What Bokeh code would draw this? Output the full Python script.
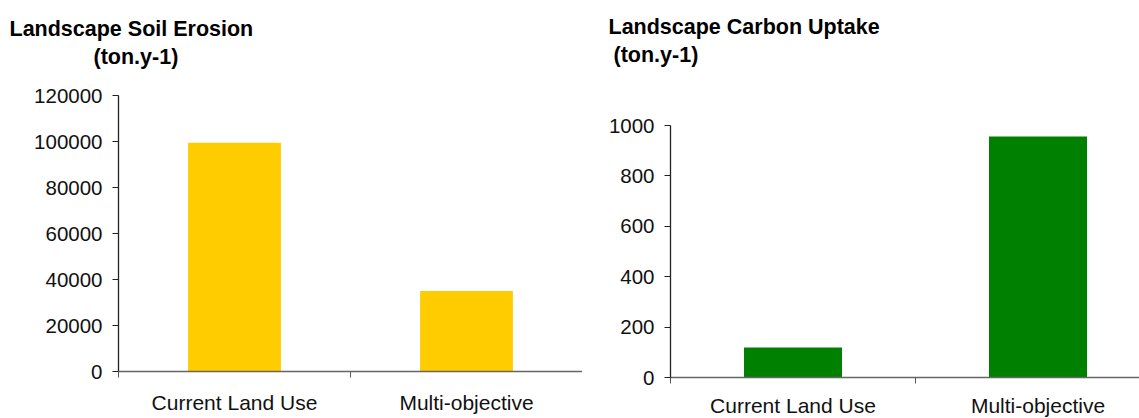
from bokeh.plotting import figure
from bokeh.models import FixedTicker, Title, Range1d, BasicTickFormatter, CustomJSTickFormatter, Span
from bokeh.layouts import row
from bokeh.embed import file_html
from bokeh.resources import INLINE

categories = ["Current Land Use", "Multi-objective"]
erosion = [99500, 35000]
carbon = [119, 956]
erosion_ticks = [0, 20000, 40000, 60000, 80000, 100000, 120000]
carbon_ticks = [0, 200, 400, 600, 800, 1000]

FONT = "Liberation Sans"
HEIGHT = 426
FRAME_TOP = 95      # frame top in pixels (shared by both plots)
FRAME_BOTTOM = 377  # frame bottom in pixels (shared by both plots)
AXIS_GREY = "#666666"


def make(values, color, ticks, title1, title2, width, left, zero_px, top_px,
         xend, off1, off2, pad, label_standoff):
    xs = [i + 0.5 for i in range(len(categories))]
    bounds = [float(i) for i in range(len(categories) + 1)]
    ymax = ticks[-1]
    ppu = (zero_px - top_px) / ymax
    ystart = -(FRAME_BOTTOM - zero_px) / ppu
    yend = ymax + (top_px - FRAME_TOP) / ppu
    lift = FRAME_BOTTOM - zero_px
    p = figure(width=width, height=HEIGHT,
               x_range=Range1d(0, xend), y_range=Range1d(ystart, yend),
               output_backend="svg", toolbar_location=None,
               min_border_left=left, min_border_right=0,
               min_border_top=FRAME_TOP, min_border_bottom=HEIGHT - FRAME_BOTTOM)
    p.vbar(x=xs, top=values, bottom=0, width=0.4, fill_color=color, line_color=None)
    p.outline_line_color = None
    p.xgrid.grid_line_color = None
    p.ygrid.grid_line_color = None
    p.background_fill_color = "white"
    p.border_fill_color = "white"

    xa = p.xaxis[0]
    xa.ticker = FixedTicker(ticks=xs, minor_ticks=bounds)
    xa.formatter = CustomJSTickFormatter(args=dict(labels=categories),
                                         code="return labels[Math.floor(tick)] || '';")
    xa.major_tick_in = 0
    xa.major_tick_out = 0
    xa.minor_tick_line_color = "#555555"
    xa.major_label_text_font = FONT
    xa.major_label_text_font_size = "21px"
    xa.major_label_text_color = "#111111"
    xa.major_label_standoff = label_standoff
    if lift > 0:
        # baseline sits above the frame bottom: draw it at y=0 and let the
        # category-boundary ticks reach up to it from the frame edge
        xa.axis_line_color = None
        xa.minor_tick_in = lift
        xa.minor_tick_out = 0
        p.add_layout(Span(location=0, dimension="width", line_color=AXIS_GREY,
                          line_width=1.3))
    else:
        xa.axis_line_color = AXIS_GREY
        xa.axis_line_width = 1.3
        xa.minor_tick_in = 0
        xa.minor_tick_out = 6

    ya = p.yaxis[0]
    ya.bounds = (0, ymax)
    ya.ticker = FixedTicker(ticks=ticks)
    ya.formatter = BasicTickFormatter(use_scientific=False)
    ya.major_tick_in = 0
    ya.major_tick_out = 6
    ya.minor_tick_line_color = None
    ya.axis_line_color = "#222222"
    ya.major_tick_line_color = "#222222"
    ya.axis_line_width = 1.3
    ya.major_label_text_font = FONT
    ya.major_label_text_font_size = "20.5px"
    ya.major_label_text_color = "#111111"
    ya.major_label_standoff = 10

    title_style = dict(align="left", text_font=FONT, text_font_size="21.5px",
                       text_font_style="bold", text_color="#000000")
    # spacer between the frame and the two title lines
    p.add_layout(Title(text=" ", standoff=pad, **title_style), "above")
    p.add_layout(Title(text=title2, offset=off2, standoff=2, **title_style), "above")
    p.add_layout(Title(text=title1, offset=off1, standoff=2, **title_style), "above")
    return p


p1 = make(erosion, "#FFCC00", erosion_ticks, "Landscape Soil Erosion", "(ton.y-1)",
          width=582, left=118, zero_px=371, top_px=95, xend=2.0,
          off1=-109, off2=-25, pad=0, label_standoff=13)
p2 = make(carbon, "#008000", carbon_ticks, "Landscape Carbon Uptake", " (ton.y-1)",
          width=557, left=88, zero_px=377, top_px=125, xend=469 / 245,
          off1=-62, off2=-57, pad=2, label_standoff=10)

layout = row(p1, p2, spacing=0)
open("out.html", "w").write(file_html(layout, INLINE))
